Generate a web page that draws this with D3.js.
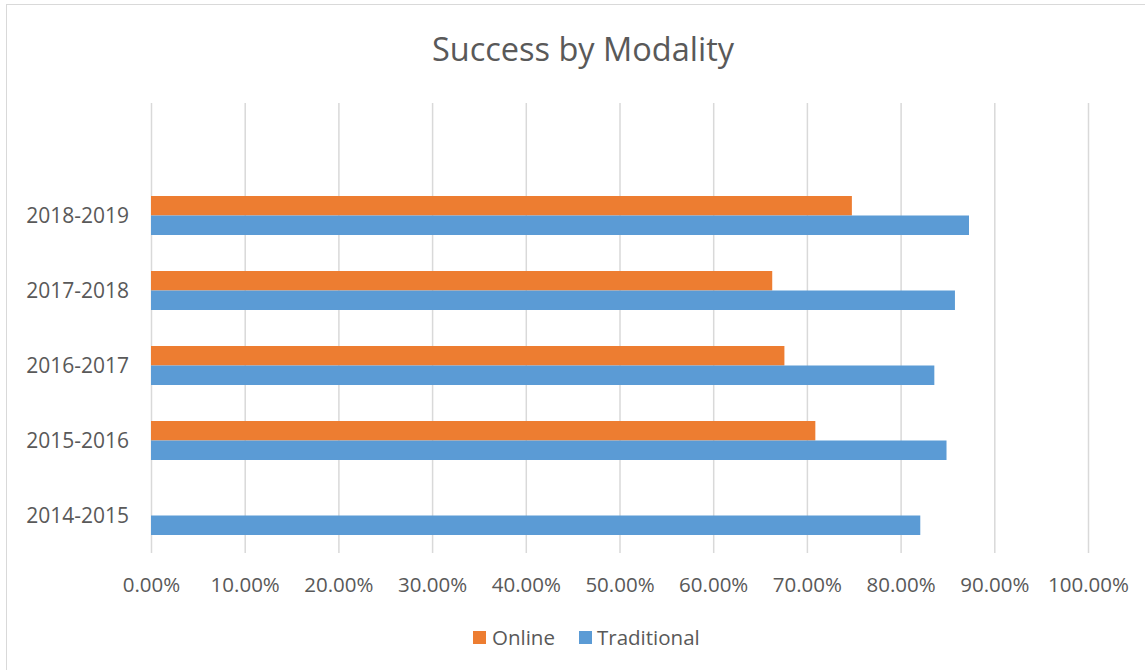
<!DOCTYPE html>
<html>
<head>
<meta charset="utf-8">
<script src="https://cdn.jsdelivr.net/npm/d3@7"></script>
<style>
  html, body { margin: 0; padding: 0; background: #ffffff; }
  svg { display: block; }
  text { font-family: "Open Sans", "Noto Sans", sans-serif; fill: #595959; }
</style>
</head>
<body>
<svg id="chart" width="1145" height="670"></svg>
<script>
// School years, bottom to top; the top row is an empty category
const years = ["2014-2015", "2015-2016", "2016-2017", "2017-2018", "2018-2019", ""];
const seriesNames = ["Online", "Traditional"];
const onlineRates = [null, 0.709, 0.676, 0.663, 0.748, null];
const traditionalRates = [0.821, 0.849, 0.836, 0.858, 0.873, null];
const xTicks = [0, 0.1, 0.2, 0.3, 0.4, 0.5, 0.6, 0.7, 0.8, 0.9, 1.0];
const colors = { Online: "#ED7D31", Traditional: "#5B9BD5" };

const svg = d3.select("#chart");
const W = 1145, H = 670;
const plot = { left: 151, right: 1088, top: 103, bottom: 553 };

// Chart frame
svg.append("rect")
  .attr("x", 6.5).attr("y", 4.5)
  .attr("width", W + 10).attr("height", H + 10)
  .attr("fill", "#fff").attr("stroke", "#D9D9D9").attr("stroke-width", 1);

// Title
svg.append("text")
  .attr("x", 583).attr("y", 61)
  .attr("text-anchor", "middle")
  .style("font-size", "32.5px").style("font-weight", 400)
  .text("Success by Modality");

const x = d3.scaleLinear().domain([0, 1]).range([plot.left, plot.right]);
const y = d3.scaleBand().domain(years.slice().reverse()).range([plot.top, plot.bottom]).padding(0);
const groupW = 39;
const inner = d3.scaleBand().domain(seriesNames)
  .range([(y.bandwidth() - groupW) / 2, (y.bandwidth() + groupW) / 2]).padding(0);

// Vertical gridlines and tick labels
const xAxis = d3.axisBottom(x).tickValues(xTicks).tickFormat(d3.format(".2%"))
  .tickSize(-(plot.bottom - plot.top)).tickPadding(24);
const gx = svg.append("g").attr("transform", `translate(0,${plot.bottom})`).call(xAxis);
gx.select(".domain").remove();
gx.selectAll(".tick line").attr("stroke", "#D9D9D9").attr("stroke-width", 1.5);
gx.selectAll(".tick text").attr("fill", "#595959").style("font-size", "20.5px")
  .style("font-family", '"Open Sans", sans-serif');

// Category labels
const yAxis = d3.axisLeft(y).tickSize(0).tickPadding(22);
const gy = svg.append("g").attr("transform", `translate(${plot.left},0)`).call(yAxis);
gy.select(".domain").remove();
gy.selectAll(".tick text").attr("fill", "#595959").style("font-size", "21px")
  .style("font-family", '"Open Sans", sans-serif').attr("dy", "0.36em");

// Bars
const rows = years.map((yr, i) => ({ year: yr, Online: onlineRates[i], Traditional: traditionalRates[i] }));
const groups = svg.append("g").selectAll("g").data(rows).join("g")
  .attr("transform", d => `translate(0,${y(d.year)})`);
groups.selectAll("rect")
  .data(d => seriesNames.map(s => ({ key: s, value: d[s] })).filter(e => e.value != null))
  .join("rect")
  .attr("x", x(0))
  .attr("y", e => inner(e.key))
  .attr("width", e => x(e.value) - x(0))
  .attr("height", inner.bandwidth())
  .attr("fill", e => colors[e.key]);

// Legend
const legendItems = [
  { name: "Online", sx: 473, tx: 492 },
  { name: "Traditional", sx: 579, tx: 597 }
];
const lg = svg.append("g");
lg.selectAll("rect").data(legendItems).join("rect")
  .attr("x", d => d.sx).attr("y", 631).attr("width", 13).attr("height", 13)
  .attr("fill", d => colors[d.name]);
lg.selectAll("text").data(legendItems).join("text")
  .attr("x", d => d.tx).attr("y", 645)
  .style("font-size", "20.5px")
  .text(d => d.name);
</script>
</body>
</html>
